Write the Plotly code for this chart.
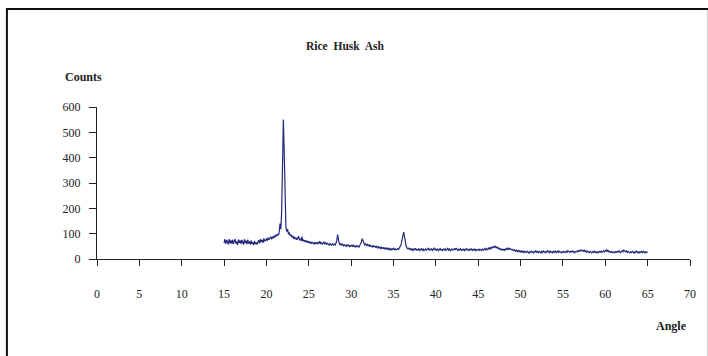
import numpy as np
import plotly.graph_objects as go

# Diffraction scan: angle grid (degrees 2-theta) and measured counts
angle_start, angle_step = 15.0, 0.1
counts = [
    64, 78, 60, 75, 69, 58, 79, 62, 73, 61,
    76, 59, 71, 78, 61, 69, 56, 77, 64, 73,
    60, 75, 66, 57, 78, 63, 72, 59, 76, 61,
    69, 57, 73, 60, 66, 55, 71, 59, 65, 57,
    67, 74, 62, 78, 68, 75, 64, 81, 70, 77,
    79, 72, 84, 76, 81, 88, 78, 86, 82, 92,
    85, 96, 90, 99, 94, 103, 140, 118, 190, 380,
    551, 420, 190, 125, 108, 118, 98, 105, 92, 96,
    86, 92, 80, 88, 78, 84, 76, 82, 90, 74,
    80, 72, 88, 70, 76, 68, 74, 66, 72, 64,
    70, 62, 68, 60, 66, 63, 58, 67, 61, 64,
    59, 66, 62, 70, 60, 65, 57, 63, 68, 60,
    64, 57, 62, 59, 55, 61, 58, 54, 60, 56,
    59, 55, 62, 70, 96, 72, 60, 56, 61, 55,
    58, 52, 57, 54, 50, 56, 52, 55, 49, 53,
    51, 56, 48, 54, 50, 47, 53, 49, 52, 46,
    52, 58, 66, 80, 72, 62, 56, 60, 54, 58,
    52, 56, 49, 54, 51, 47, 53, 48, 51, 46,
    50, 44, 48, 43, 47, 41, 46, 42, 45, 40,
    44, 39, 43, 38, 42, 37, 41, 36, 40, 38,
    42, 37, 40, 36, 39, 41, 38, 44, 48, 56,
    75, 95, 106, 88, 62, 50, 44, 40, 43, 38,
    41, 36, 40, 34, 39, 37, 42, 35, 38, 36,
    40, 34, 38, 41, 35, 39, 33, 37, 40, 35,
    38, 42, 35, 39, 36, 41, 34, 38, 43, 36,
    39, 35, 40, 33, 37, 41, 35, 38, 34, 39,
    36, 40, 34, 38, 42, 35, 39, 33, 37, 40,
    35, 38, 41, 36, 43, 38, 34, 39, 36, 40,
    34, 38, 35, 40, 33, 37, 41, 35, 38, 34,
    39, 36, 41, 34, 38, 35, 40, 33, 37, 35,
    38, 34, 39, 36, 33, 40, 35, 38, 42, 36,
    40, 37, 43, 39, 45, 41, 47, 44, 49, 46,
    51, 45, 48, 42, 44, 38, 41, 36, 39, 35,
    38, 34, 40, 37, 42, 36, 44, 39, 41, 37,
    35, 38, 33, 36, 31, 35, 30, 34, 29, 33,
    28, 32, 27, 31, 25, 30, 28, 26, 31, 24,
    23, 29, 26, 31, 27, 24, 30, 28, 32, 26,
    29, 25, 31, 27, 24, 30, 26, 32, 28, 25,
    30, 27, 33, 28, 25, 31, 26, 29, 24, 30,
    27, 31, 25, 29, 32, 26, 30, 27, 24, 29,
    26, 30, 28, 25, 31, 27, 33, 29, 26, 30,
    28, 32, 27, 30, 25, 29, 31, 28, 33, 30,
    34, 31, 36, 33, 30, 35, 29, 32, 27, 31,
    28, 25, 30, 27, 24, 29, 26, 31, 25, 28,
    24, 28, 25, 30, 27, 31, 26, 29, 33, 28,
    32, 36, 30, 34, 28, 31, 26, 29, 25, 28,
    27, 24, 29, 26, 30, 27, 32, 28, 25, 30,
    33, 29, 35, 31, 28, 32, 26, 30, 27, 24,
    28, 25, 30, 27, 23, 29, 26, 31, 25, 28,
    24, 29, 26, 30, 25, 31, 27, 24, 29, 26,
    28,
]
angles = angle_start + angle_step * np.arange(len(counts))

x_ticks = [0, 5, 10, 15, 20, 25, 30, 35, 40, 45, 50, 55, 60, 65, 70]
y_ticks = [0, 100, 200, 300, 400, 500, 600]

FONT = "Liberation Serif, Times New Roman, serif"
INK = "#222222"

fig = go.Figure()
fig.add_trace(go.Scatter(
    x=angles, y=counts, mode="lines",
    line=dict(color="#25287a", width=1.2),
    hoverinfo="x+y", showlegend=False,
))

W, H = 708, 356
L, R, T, B = 97, 12, 107, 97
pw, ph = W - L - R, H - T - B


def px(x):
    return (x - L) / pw


def py(y):
    return (H - B - y) / ph


fig.update_layout(
    width=W, height=H,
    margin=dict(l=L, r=R, t=T, b=B),
    paper_bgcolor="white", plot_bgcolor="white",
    font=dict(family=FONT, size=12, color=INK),
    xaxis=dict(
        range=[0, 70], tickvals=x_ticks, showgrid=False, zeroline=False,
        showline=True, linecolor=INK, linewidth=1,
        ticks="outside", ticklen=6, tickcolor=INK,
        ticklabelstandoff=18, tickfont=dict(size=12, family=FONT),
    ),
    yaxis=dict(
        range=[0, 600], tickvals=y_ticks, showgrid=False, zeroline=False,
        showline=True, linecolor=INK, linewidth=1,
        ticks="outside", ticklen=7, tickcolor=INK,
        ticklabelstandoff=6, tickfont=dict(size=12, family=FONT),
    ),
    annotations=[
        dict(text="<b>Rice  Husk  Ash</b>", x=px(348), y=py(46),
             xref="paper", yref="paper", showarrow=False,
             xanchor="center", yanchor="middle", font=dict(size=11.5)),
        dict(text="<b>Counts</b>", x=px(83), y=py(77),
             xref="paper", yref="paper", showarrow=False,
             xanchor="center", yanchor="middle", font=dict(size=12)),
        dict(text="<b>Angle</b>", x=px(677), y=py(326),
             xref="paper", yref="paper", showarrow=False,
             xanchor="center", yanchor="middle", font=dict(size=12)),
    ],
    shapes=[
        dict(type="rect", xref="paper", yref="paper",
             x0=px(6), x1=px(715), y0=py(365), y1=py(9),
             line=dict(color="#111111", width=2), layer="above"),
    ],
)

fig.write_html("out.html")
